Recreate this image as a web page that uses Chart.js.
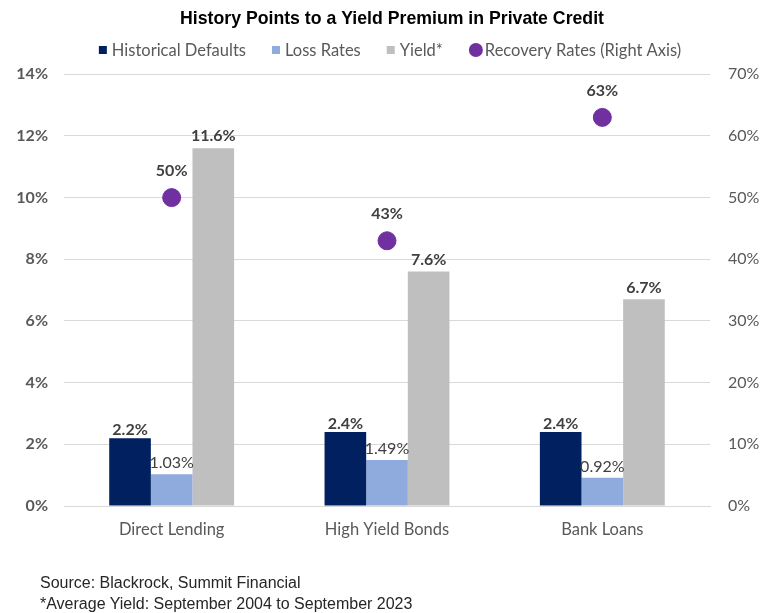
<!DOCTYPE html>
<html>
<head>
    <title>History Points to a Yield Premium in Private Credit</title>
    <script src="https://cdn.jsdelivr.net/npm/chart.js"></script>
    <style>
        body {
            margin: 0;
            background: #ffffff;
        }
        #wrap {
            position: relative;
            width: 772px;
            height: 613px;
        }
        #footer {
            position: absolute;
            left: 40px;
            top: 572px;
            font-family: "Liberation Sans", Arial, sans-serif;
            font-size: 16px;
            line-height: 21px;
            color: #262626;
        }
    </style>
</head>
<body>
    <div id="wrap">
        <canvas id="myChart" width="772" height="613"></canvas>
        <div id="footer">Source: Blackrock, Summit Financial<br>*Average Yield: September 2004 to September 2023</div>
    </div>

    <script>
        const categories = ['Direct Lending', 'High Yield Bonds', 'Bank Loans'];
        const historicalDefaults = [2.2, 2.4, 2.4];
        const lossRates = [1.03, 1.49, 0.92];
        const yields = [11.6, 7.6, 6.7];
        const recoveryRates = [50, 43, 63];

        const labelColor = '#404040';
        const axisColor = '#595959';
        const gridColor = '#d9d9d9';
        const labelFont = 'Lato, sans-serif';

        // Value labels above every bar and every recovery point
        const valueLabels = {
            id: 'valueLabels',
            afterDatasetsDraw(chart) {
                const ctx = chart.ctx;
                chart.data.datasets.forEach((ds, i) => {
                    const meta = chart.getDatasetMeta(i);
                    meta.data.forEach((el, j) => {
                        const text = ds.data[j].toFixed(ds.decimals) + '%';
                        ctx.save();
                        ctx.font = (ds.labelBold ? 'bold ' : '') + '16px ' + labelFont;
                        ctx.fillStyle = labelColor;
                        ctx.textAlign = 'center';
                        ctx.textBaseline = 'middle';
                        ctx.fillText(text, el.x, el.y - ds.labelOffset);
                        ctx.restore();
                    });
                });
            }
        };

        // Legend row: small squares for the bars, a dot for the recovery series
        const legendRow = {
            id: 'legendRow',
            afterDraw(chart) {
                const ctx = chart.ctx;
                const y = 50;
                const gap = 26;
                ctx.save();
                ctx.font = '16.5px ' + labelFont;
                const items = chart.data.datasets.map(ds => {
                    const dot = ds.type === 'line';
                    const mark = dot ? 14 : 8;
                    const space = dot ? 2 : 5;
                    return { ds, dot, mark, space, w: mark + space + ctx.measureText(ds.label).width };
                });
                const total = items.reduce((s, it) => s + it.w, 0) + gap * (items.length - 1);
                let x = 390 - total / 2;
                ctx.textBaseline = 'middle';
                items.forEach(it => {
                    ctx.fillStyle = it.ds.backgroundColor;
                    if (it.dot) {
                        ctx.beginPath();
                        ctx.arc(x + it.mark / 2, y, it.mark / 2, 0, Math.PI * 2);
                        ctx.fill();
                    } else {
                        ctx.fillRect(x, y - it.mark / 2, it.mark, it.mark);
                    }
                    ctx.fillStyle = axisColor;
                    ctx.fillText(it.ds.label, x + it.mark + it.space, y + 1);
                    x += it.w + gap;
                });
                ctx.restore();
            }
        };

        const config = {
            type: 'bar',
            data: {
                labels: categories,
                datasets: [
                    {
                        label: 'Historical Defaults',
                        data: historicalDefaults,
                        backgroundColor: '#002060',
                        decimals: 1,
                        labelBold: true,
                        labelOffset: 8,
                        yAxisID: 'y'
                    },
                    {
                        label: 'Loss Rates',
                        data: lossRates,
                        backgroundColor: '#8faadc',
                        decimals: 2,
                        labelBold: false,
                        labelOffset: 11,
                        yAxisID: 'y'
                    },
                    {
                        label: 'Yield*',
                        data: yields,
                        backgroundColor: '#bfbfbf',
                        decimals: 1,
                        labelBold: true,
                        labelOffset: 12,
                        yAxisID: 'y'
                    },
                    {
                        label: 'Recovery Rates (Right Axis)',
                        type: 'line',
                        data: recoveryRates,
                        showLine: false,
                        backgroundColor: '#7030a0',
                        borderColor: '#7030a0',
                        pointRadius: 9,
                        pointHoverRadius: 9,
                        decimals: 0,
                        labelBold: true,
                        labelOffset: 27,
                        yAxisID: 'y1'
                    }
                ]
            },
            options: {
                responsive: false,
                animation: false,
                datasets: {
                    bar: {
                        categoryPercentage: 0.58,
                        barPercentage: 1
                    }
                },
                layout: {
                    padding: { left: 12, right: 0, top: 0, bottom: 65 }
                },
                plugins: {
                    tooltip: { enabled: false },
                    legend: { display: false },
                    title: {
                        display: true,
                        text: 'History Points to a Yield Premium in Private Credit',
                        color: '#000000',
                        font: { family: '"Liberation Sans", Arial, sans-serif', weight: 'bold', size: 17.7 },
                        padding: { top: 8, bottom: 45 }
                    }
                },
                scales: {
                    x: {
                        grid: { display: false },
                        border: { color: gridColor },
                        afterFit: s => { s.height = 42; },
                        ticks: {
                            color: axisColor,
                            padding: 6,
                            font: { family: labelFont, size: 16.5 }
                        }
                    },
                    y: {
                        position: 'left',
                        min: 0,
                        max: 14,
                        afterFit: s => { s.width = 52; },
                        ticks: {
                            stepSize: 2,
                            padding: 16,
                            color: axisColor,
                            font: { family: labelFont, size: 16, weight: 'bold' },
                            callback: v => v + '%'
                        },
                        grid: { color: gridColor, drawTicks: false },
                        border: { display: false }
                    },
                    y1: {
                        position: 'right',
                        min: 0,
                        max: 70,
                        afterFit: s => { s.width = 62; },
                        ticks: {
                            stepSize: 10,
                            padding: 18,
                            color: axisColor,
                            font: { family: labelFont, size: 16 },
                            callback: v => v + '%'
                        },
                        grid: { display: false, drawTicks: false },
                        border: { display: false }
                    }
                }
            },
            plugins: [valueLabels, legendRow]
        };

        const ctx = document.getElementById('myChart').getContext('2d');
        const myChart = new Chart(ctx, config);
    </script>
</body>
</html>
